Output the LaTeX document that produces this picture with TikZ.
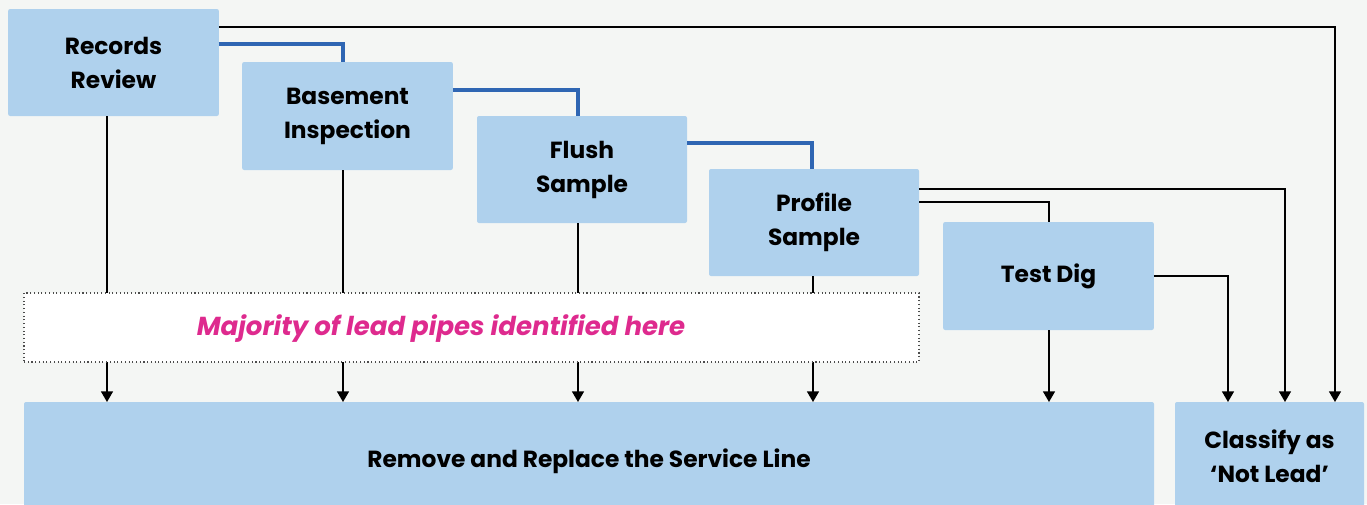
\documentclass[tikz,border=0pt]{standalone}
\usepackage{fontspec}
\setmainfont{Poppins}
\usetikzlibrary{arrows.meta}
\definecolor{bg}{HTML}{F4F6F4}
\definecolor{boxfill}{HTML}{AFD1ED}
\definecolor{pipe}{HTML}{2F66B3}
\definecolor{pinktext}{HTML}{DE2A8E}
\tikzset{
  stepbox/.style={rectangle, rounded corners=1.5pt, fill=boxfill, draw=none, align=center,
     font=\fontsize{17.5}{25.5}\selectfont\bfseries, inner sep=0pt, outer sep=0pt},
  pipeline/.style={draw=pipe, line width=3pt},
  flow/.style={draw=black, line width=1.1pt},
  flowarrow/.style={draw=black, line width=1.1pt, -{Triangle[width=9pt,length=8pt]}},
  notebox/.style={rectangle, fill=white, draw=black!70, dotted, line width=0.8pt, inner sep=0pt, outer sep=0pt}
}
\begin{document}
\begin{tikzpicture}[x=0.75pt,y=-0.75pt]
\path[fill=bg] (0,0) rectangle (1367,504);
\useasboundingbox (0,0) rectangle (1367,504);

\node[stepbox, minimum width=158pt, minimum height=80.25pt] (rr) at (113.5,62.5) {Records\\Review};
\node[stepbox, minimum width=158pt, minimum height=81pt] (bi) at (347.5,116) {Basement\\Inspection};
\node[stepbox, minimum width=157.5pt, minimum height=80.25pt] (fs) at (582,169.5) {Flush\\Sample};
\node[stepbox, minimum width=157.5pt, minimum height=80.25pt] (ps) at (814,222.5) {Profile\\Sample};
\node[stepbox, minimum width=158pt, minimum height=81pt] (td) at (1048.5,276) {Test Dig};
\node[stepbox, minimum width=847.5pt, minimum height=88.5pt] (rep) at (589,461) {Remove and Replace the Service Line};
\node[stepbox, minimum width=141.75pt, minimum height=81pt] (cl) at (1269.5,456) {Classify as\\‘Not Lead’};

% blue pipes
\draw[pipeline] (rr.east |- 0,44) -| (bi.north -| 343,0);
\draw[pipeline] (bi.east |- 0,90) -| (fs.north -| 578,0);
\draw[pipeline] (fs.east |- 0,143) -| (ps.north -| 812,0);

% down to replacement
\draw[flowarrow] (rr.south -| 107,0) -- (rep.north -| 107,0);
\draw[flowarrow] (bi.south -| 343,0) -- (rep.north -| 343,0);
\draw[flowarrow] (fs.south -| 578,0) -- (rep.north -| 578,0);
\draw[flowarrow] (ps.south -| 813,0) -- (rep.north -| 813,0);
\draw[flowarrow] (td.south -| 1049,0) -- (rep.north -| 1049,0);

% to classify
\draw[flowarrow] (rr.east |- 0,27) -| (cl.north -| 1335,0);
\draw[flowarrow] (ps.east |- 0,189) -| (cl.north -| 1285,0);
\draw[flow] (ps.east |- 0,202) -| (td.north -| 1049,0);
\draw[flowarrow] (td.east |- 0,276) -| (cl.north -| 1228,0);

% note
\node[notebox, minimum width=671.25pt, minimum height=51.75pt] (note) at (471.5,327.5) {};
\node[font=\fontsize{19.5}{22}\selectfont\bfseries\itshape, text=pinktext, inner sep=0pt] (notetext) at (441,329) {Majority of lead pipes identified here};
\end{tikzpicture}
\end{document}
